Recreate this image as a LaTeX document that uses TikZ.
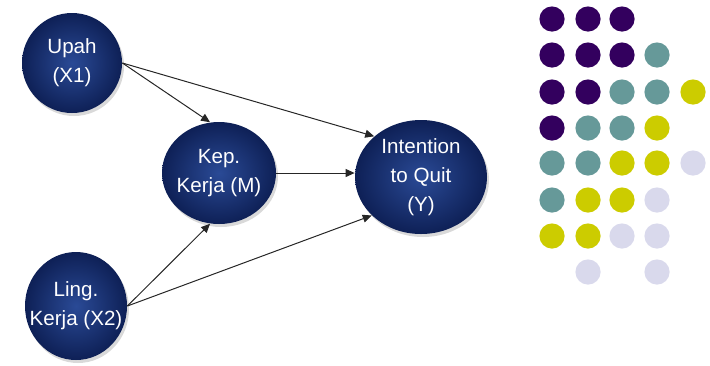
\documentclass[tikz,border=0pt]{standalone}
\usepackage{fontspec}
\setmainfont{Liberation Sans}
\usepackage{xcolor}
\usetikzlibrary{arrows.meta,shapes.geometric,shadows}

\definecolor{ballin}{RGB}{42,74,150}
\definecolor{ballout}{RGB}{14,32,86}
\definecolor{dotpurple}{HTML}{33005E}
\definecolor{dotteal}{HTML}{669999}
\definecolor{dotyellow}{HTML}{CCCC00}
\definecolor{dotlilac}{HTML}{D9D9EC}

\begin{document}
\begin{tikzpicture}[x=0.5pt,y=-0.5pt,
    var/.style={ellipse,inner sep=-10pt,shading=radial,inner color=ballin,outer color=ballout,
        text=white,align=center,font=\fontsize{10.3}{14.5}\selectfont,
        drop shadow={opacity=0.3,shadow xshift=1pt,shadow yshift=-1.5pt}},
    link/.style={-{Triangle[length=4.5pt,width=4pt]},line width=0.5pt,black!85}]
    \useasboundingbox (0,0) rectangle (710,365);

    % Variables
    \node[var,minimum width=50pt,minimum height=50pt] (x1) at (72,63) {Upah\\(X1)};
    \node[var,minimum width=57pt,minimum height=51pt] (m) at (219,173) {Kep.\\Kerja (M)};
    \node[var,minimum width=66pt,minimum height=57pt] (y) at (421,177) {Intention\\to Quit\\(Y)};
    \node[var,minimum width=51pt,minimum height=54pt] (x2) at (76,306) {Ling.\\Kerja (X2)};

    % Paths
    \draw[link] (x1.east) -- (m.100);
    \draw[link] (x1.east) -- (y.139);
    \draw[link] (m.east) -- (m.east -| y.west);
    \draw[link] (x2.east) -- (m.260);
    \draw[link] (x2.east) -- (y.218);

    % Dot pattern
    \fill[dotpurple] (552,19) circle (6.3pt) (588,19) circle (6.3pt) (622,19) circle (6.3pt)
        (552,55) circle (6.3pt) (588,55) circle (6.3pt) (622,55) circle (6.3pt)
        (552,92) circle (6.3pt) (588,92) circle (6.3pt)
        (552,128) circle (6.3pt);
    \fill[dotteal] (657,55) circle (6.3pt)
        (622,92) circle (6.3pt) (657,92) circle (6.3pt)
        (588,128) circle (6.3pt) (622,128) circle (6.3pt)
        (552,163) circle (6.3pt) (588,163) circle (6.3pt)
        (552,200) circle (6.3pt);
    \fill[dotyellow] (693,92) circle (6.3pt)
        (657,128) circle (6.3pt)
        (622,163) circle (6.3pt) (657,163) circle (6.3pt)
        (588,200) circle (6.3pt) (622,200) circle (6.3pt)
        (552,236) circle (6.3pt) (588,236) circle (6.3pt);
    \fill[dotlilac] (693,163) circle (6.3pt)
        (657,200) circle (6.3pt)
        (622,236) circle (6.3pt) (657,236) circle (6.3pt)
        (588,272) circle (6.3pt) (657,272) circle (6.3pt);
\end{tikzpicture}
\end{document}
